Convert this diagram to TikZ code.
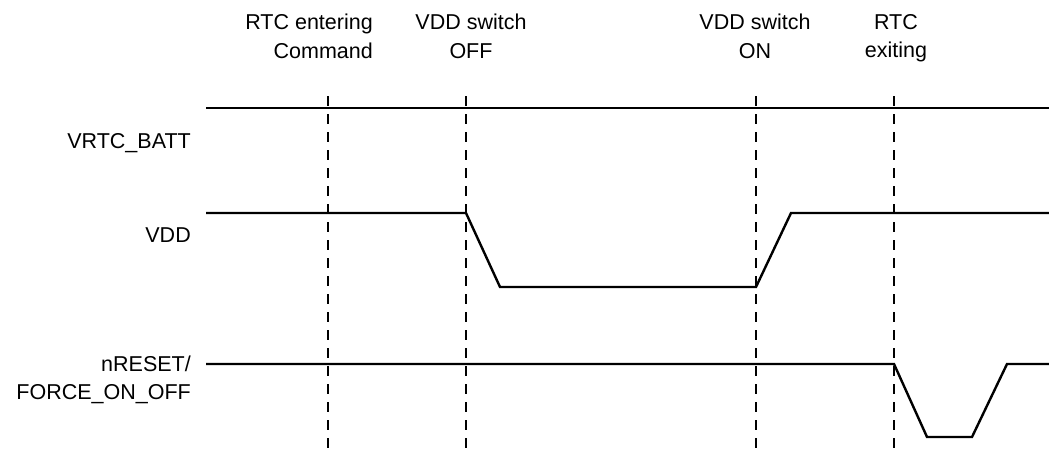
\documentclass[tikz,border=0pt]{standalone}
\usepackage{fontspec}
\setmainfont{Liberation Sans}
\begin{document}
\begin{tikzpicture}[x=1pt,y=-1pt,
  wave/.style={line width=2.4pt,line join=miter},
  marker/.style={line width=2.4pt,dash pattern=on 10pt off 8pt},
  lbl/.style={font=\fontsize{21.5}{28.5}\selectfont,inner sep=0pt},
  toplbl/.style={lbl,align=center,anchor=north},
  siglbl/.style={lbl,align=right,anchor=east}]
\useasboundingbox (0,0) rectangle (1049,450);
% event labels
\node[lbl,align=right,anchor=north east] (l1) at (373,14) {RTC entering\\Command};
\node[toplbl] (l2) at (471,14) {VDD switch\\OFF};
\node[toplbl] (l3) at (755,14) {VDD switch\\ON};
\node[toplbl] (l4) at (896,14) {RTC\\exiting};
% signal labels
\node[siglbl] (s1) at (191,143) {VRTC\_BATT};
\node[siglbl] (s2) at (191,235) {VDD};
\node[siglbl] (s3) at (191,380) {nRESET/\\FORCE\_ON\_OFF};
% marker coordinates
\foreach \n/\x in {a/328,b/466,c/756,d/894}{
  \coordinate (\n top) at (\x,96);
  \coordinate (\n bot) at (\x,452);
}
\foreach \n in {a,b,c,d}{\draw[marker] (\n top) -- (\n bot);}
% VRTC_BATT
\coordinate (v0) at (206,108);
\coordinate (v1) at (1049,108);
\draw[wave] (v0) -- (v1);
% VDD
\coordinate (d0) at (206,213);
\coordinate (d1) at (466,213);
\coordinate (d2) at (500,287);
\coordinate (d3) at (756,287);
\coordinate (d4) at (791,213);
\coordinate (d5) at (1049,213);
\draw[wave] (d0) -- (d1) -- (d2) -- (d3) -- (d4) -- (d5);
% nRESET
\coordinate (r0) at (206,364);
\coordinate (r1) at (894,364);
\coordinate (r2) at (927,437);
\coordinate (r3) at (972,437);
\coordinate (r4) at (1007,364);
\coordinate (r5) at (1049,364);
\draw[wave] (r0) -- (r1) -- (r2) -- (r3) -- (r4) -- (r5);
\end{tikzpicture}
\end{document}
